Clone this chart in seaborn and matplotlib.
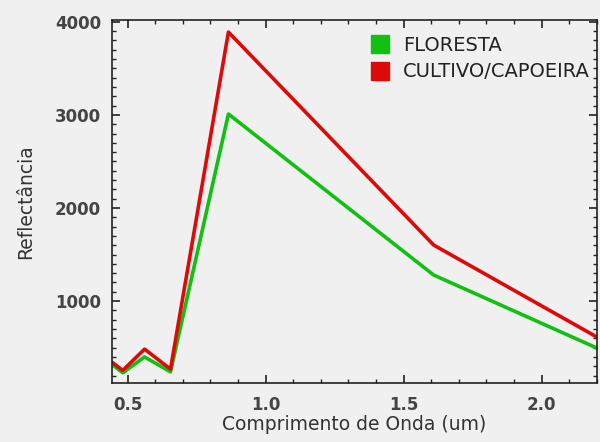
import pandas as pd
import matplotlib
matplotlib.use("Agg")
import matplotlib.pyplot as plt
from matplotlib.lines import Line2D
from matplotlib.ticker import MultipleLocator
import seaborn as sns

# Landsat 8 OLI band centres (um)
wavelength = [0.443, 0.482, 0.561, 0.655, 0.865, 1.609, 2.201]
floresta = [320, 230, 400, 240, 3010, 1280, 495]
cultivo = [344, 255, 484, 269, 3890, 1602, 613]
classes = ["FLORESTA", "CULTIVO/CAPOEIRA"]
colors = {"FLORESTA": "#11c011", "CULTIVO/CAPOEIRA": "#dd0a0a"}

df = pd.DataFrame({
    "wl": wavelength * 2,
    "refl": floresta + cultivo,
    "classe": [classes[0]] * len(wavelength) + [classes[1]] * len(wavelength),
})

sns.set_style("ticks")
plt.rcParams["font.family"] = ["DejaVu Sans"]
bg = "#f0f0f0"
txt = "#333333"

fig = plt.figure(figsize=(6, 4.42), dpi=100, facecolor=bg)
ax = fig.add_axes([112 / 600, 1 - 383 / 442, (597 - 112) / 600, (383 - 20) / 442])
ax.set_facecolor(bg)

sns.lineplot(data=df, x="wl", y="refl", hue="classe", palette=colors,
             linewidth=2.6, ax=ax, legend=False, sort=False)

ax.set_xlim(0.443, 2.201)
ax.set_ylim(120, 4020)
ax.xaxis.set_major_locator(MultipleLocator(0.5))
ax.xaxis.set_minor_locator(MultipleLocator(0.1))
ax.yaxis.set_major_locator(MultipleLocator(1000))
ax.yaxis.set_minor_locator(MultipleLocator(100))
ax.xaxis.set_major_formatter(matplotlib.ticker.FormatStrFormatter("%.1f"))
ax.tick_params(which="both", direction="in", top=True, right=True, colors="#222222")
ax.tick_params(which="major", length=6, width=1.2, labelsize=12, labelcolor="#444444")
ax.tick_params(axis="x", which="major", pad=9)
ax.tick_params(axis="y", which="major", pad=8)
ax.tick_params(which="minor", length=3, width=1.0)
for lab in ax.get_xticklabels() + ax.get_yticklabels():
    lab.set_fontweight("bold")
for s in ax.spines.values():
    s.set_color("#222222")
    s.set_linewidth(1.2)

ax.set_xlabel("Comprimento de Onda (um)", fontsize=13.5, color=txt, labelpad=1)
ax.set_ylabel("Reflectância", fontsize=13.5, color=txt, labelpad=14)

handles = [Line2D([], [], marker="s", linestyle="none", markersize=13,
                  markerfacecolor=colors[c], markeredgecolor=colors[c]) for c in classes]
ax.legend(handles, classes, loc="upper right", frameon=False, fontsize=14,
          labelcolor="#222222", handletextpad=0.2, borderaxespad=0.4,
          labelspacing=0.4, bbox_to_anchor=(1.018, 1.0))

fig.savefig("out.png", dpi=100, facecolor=bg)
